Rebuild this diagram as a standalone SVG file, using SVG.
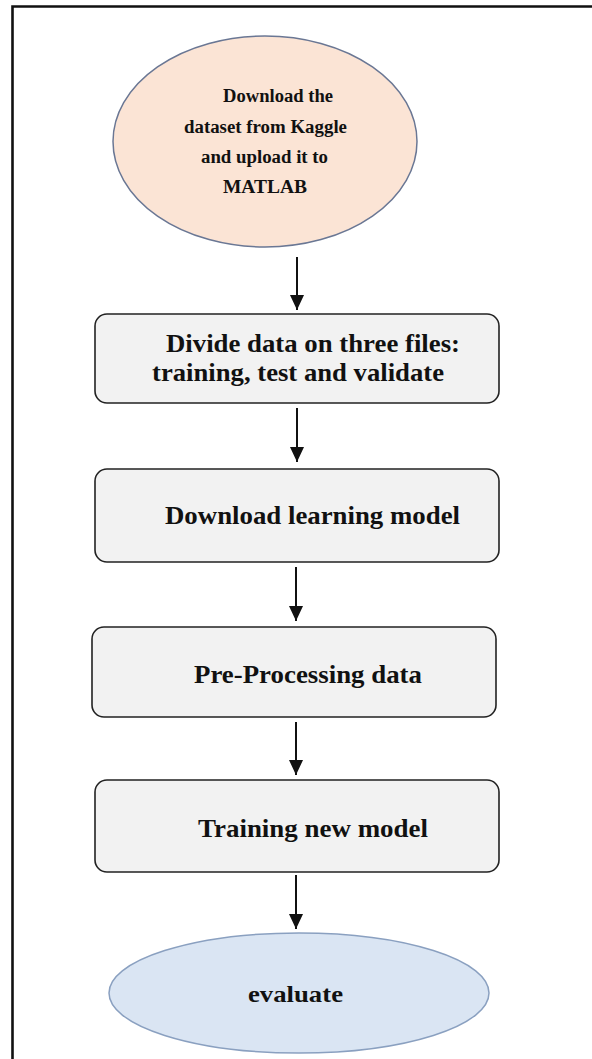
<svg xmlns="http://www.w3.org/2000/svg" width="592" height="1059" viewBox="0 0 592 1059">
  <style>
    .bg { fill: #ffffff; }
    .frame { stroke: #111111; stroke-width: 2.6; fill: none; }
    .box { fill: #f2f2f2; stroke: #222222; stroke-width: 1.6; }
    .start { fill: #fbe4d5; stroke: #6a7794; stroke-width: 1.5; }
    .end { fill: #dae5f3; stroke: #8aa0c0; stroke-width: 1.5; }
    .t { font-family: "Liberation Serif", "Times New Roman", serif; font-weight: bold; fill: #111111; }
    .s { font-size: 18.5px; }
    .b { font-size: 24.5px; }
    .conn { stroke: #111111; stroke-width: 2; fill: none; }
  </style>
  <defs>
    <marker id="arrow" markerUnits="userSpaceOnUse" markerWidth="16" markerHeight="16" refX="15" refY="7" orient="auto">
      <path d="M0,0 L15,7 L0,14 Z" fill="#111111"/>
    </marker>
  </defs>
  <rect class="bg" x="0" y="0" width="592" height="1059"/>
  <path class="frame" d="M12.5,1059 L12.5,6.5 L592,6.5"/>

  <g id="connectors">
    <line class="conn" x1="297" y1="257" x2="297" y2="310" marker-end="url(#arrow)"/>
    <line class="conn" x1="297" y1="408" x2="297" y2="462" marker-end="url(#arrow)"/>
    <line class="conn" x1="296" y1="567" x2="296" y2="621" marker-end="url(#arrow)"/>
    <line class="conn" x1="296" y1="722" x2="296" y2="775" marker-end="url(#arrow)"/>
    <line class="conn" x1="296" y1="875" x2="296" y2="929" marker-end="url(#arrow)"/>
  </g>

  <g id="node-download-dataset">
    <ellipse class="start" cx="265" cy="141.5" rx="152" ry="105.5"/>
    <text class="t s" x="223" y="102" textLength="110" lengthAdjust="spacingAndGlyphs">Download the</text>
    <text class="t s" x="184" y="133" textLength="163" lengthAdjust="spacingAndGlyphs">dataset from Kaggle</text>
    <text class="t s" x="201" y="162.5" textLength="127" lengthAdjust="spacingAndGlyphs">and upload it to</text>
    <text class="t s" x="223" y="193" textLength="84" lengthAdjust="spacingAndGlyphs">MATLAB</text>
  </g>

  <g id="node-divide-data">
    <rect class="box" x="95" y="314" width="404" height="89" rx="12" ry="12"/>
    <text class="t b" x="166" y="352" textLength="294" lengthAdjust="spacingAndGlyphs">Divide data on three files:</text>
    <text class="t b" x="152" y="381" textLength="292" lengthAdjust="spacingAndGlyphs">training, test and validate</text>
  </g>

  <g id="node-download-model">
    <rect class="box" x="95" y="469" width="404" height="93" rx="12" ry="12"/>
    <text class="t b" x="165" y="524" textLength="295" lengthAdjust="spacingAndGlyphs">Download learning model</text>
  </g>

  <g id="node-preprocessing">
    <rect class="box" x="92" y="627" width="404" height="90" rx="12" ry="12"/>
    <text class="t b" x="194" y="683" textLength="228" lengthAdjust="spacingAndGlyphs">Pre-Processing data</text>
  </g>

  <g id="node-training">
    <rect class="box" x="95" y="780" width="404" height="92" rx="12" ry="12"/>
    <text class="t b" x="198" y="837" textLength="230" lengthAdjust="spacingAndGlyphs">Training new model</text>
  </g>

  <g id="node-evaluate">
    <ellipse class="end" cx="299" cy="993" rx="190" ry="60"/>
    <text class="t" style="font-size:22.5px" x="248" y="1002" textLength="95" lengthAdjust="spacingAndGlyphs">evaluate</text>
  </g>
</svg>
